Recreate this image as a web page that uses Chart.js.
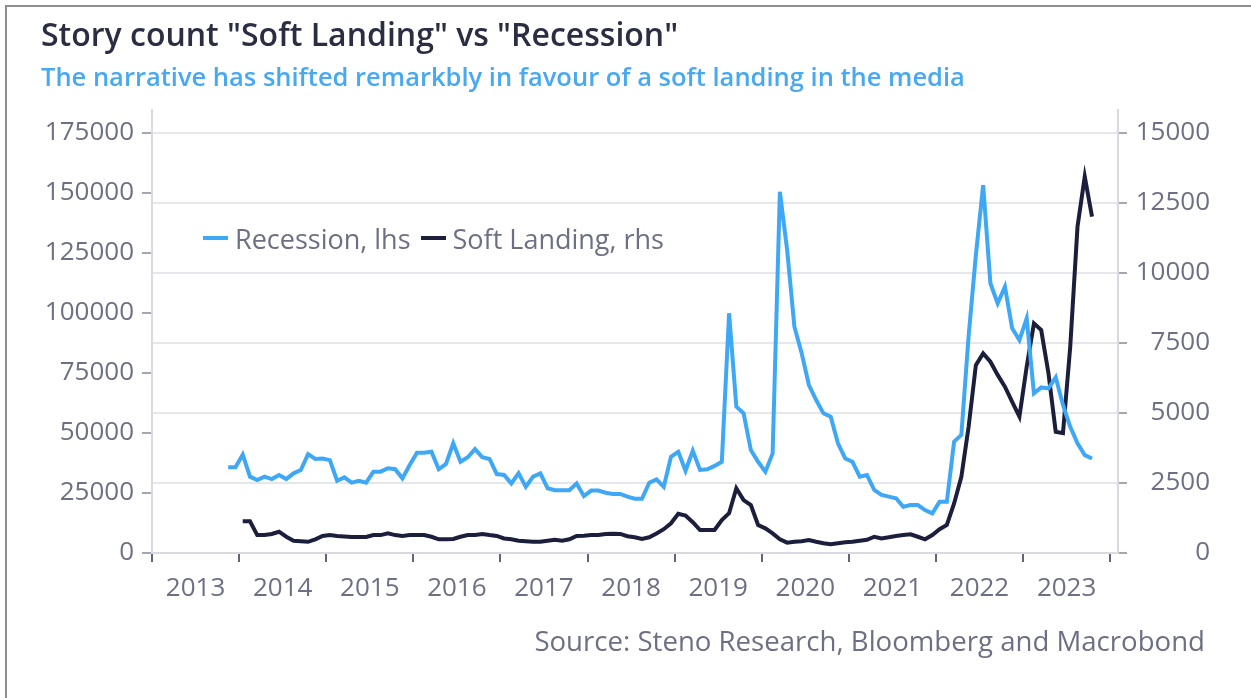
<!DOCTYPE html>
<html lang="en">
<head>
  <meta charset="UTF-8">
  <meta name="viewport" content="width=device-width, initial-scale=1.0">
  <script src="https://cdn.jsdelivr.net/npm/chart.js"></script>
  <title>Story count "Soft Landing" vs "Recession"</title>
  <style>
    body{margin: 0; background: #fff; font-family: "Open Sans", sans-serif;}
    #page{position: relative; width: 1251px; height: 698px; overflow: hidden;}
    #frame{position: absolute; left: 5px; top: 5px; width: 1300px; height: 800px; border: 2px solid #8e8e8e;}
    #title{position: absolute; left: 41px; top: 12px; font-size: 32px; font-weight: 600; color: #2b2d42; white-space: nowrap;}
    #sub{position: absolute; left: 41px; top: 59px; font-size: 25.5px; font-weight: 600; color: #47a9f2; white-space: nowrap;}
    #source{position: absolute; right: 46px; top: 621px; font-size: 27.6px; color: #6d7084; white-space: nowrap;}
    #legend{position: absolute; left: 203px; top: 222px; height: 32px; display: flex; align-items: center; font-size: 27px; color: #6d7084;}
    #legend .swatch{display: inline-block; width: 25px; height: 4px; margin-right: 7px;}
    #legend .item{display: flex; align-items: center; margin-right: 10px;}
    canvas{position: absolute; left: 0; top: 0;}
  </style>
</head>
<body>
  <div id="page">
    <div id="frame"></div>
    <canvas id="myChart" width="1251" height="698"></canvas>
    <div id="title">Story count "Soft Landing" vs "Recession"</div>
    <div id="sub">The narrative has shifted remarkbly in favour of a soft landing in the media</div>
    <div id="legend"></div>
    <div id="source">Source: Steno Research, Bloomberg and Macrobond</div>
  </div>
  <script>
    // monthly story counts, first month is Nov 2013
    const firstYear = 2013;
    const firstMonth = 11;

    const recession = [
      35700, 35700,
      41000, 31800, 30400, 31800, 30800, 32500, 30800, 33200, 34600, 41200, 39200, 39400,
      38700, 30100, 31500, 29300, 30100, 29300, 33900, 33900, 35300, 34900, 31100, 36700,
      41800, 41800, 42200, 34900, 37100, 45700, 38000, 39900, 43300, 39900, 39200, 32900,
      32500, 29000, 33200, 27600, 31800, 33200, 27000, 26200, 26200, 26200, 29000, 23700,
      26000, 26000, 25100, 24600, 24600, 23500, 22600, 22600, 29300, 30700, 27600, 40100,
      42200, 34300, 42600, 34600, 34900, 36300, 38000, 99900, 61000, 58200, 42900, 38000,
      33900, 41500, 150500, 126250, 94300, 83200, 70000, 63750, 58200, 56800, 45700, 39400,
      38000, 31800, 32500, 26250, 24200, 23500, 22800, 19300, 20000, 20000, 17900, 16500,
      21400, 21400, 46400, 49200, 90500, 124200, 153300, 112400, 104000, 111000, 93600, 88750,
      97800, 66500, 69000, 68600, 73200, 61700, 52600, 45700, 40800, 39400
    ];

    const softLanding = [
      null, null,
      1130, 1130, 640, 640, 680, 760, 580, 440, 420, 400, 490, 610,
      640, 610, 590, 570, 570, 570, 640, 640, 700, 640, 610, 640,
      640, 640, 580, 490, 490, 500, 580, 640, 640, 680, 640, 610,
      520, 490, 440, 420, 400, 400, 440, 470, 440, 490, 610, 620,
      640, 640, 680, 690, 680, 600, 560, 500, 560, 700, 850, 1060,
      1400, 1340, 1100, 820, 820, 820, 1180, 1420, 2310, 1890, 1710, 1000,
      880, 700, 490, 370, 400, 420, 460, 400, 350, 310, 350, 380,
      400, 440, 470, 580, 520, 560, 610, 640, 670, 580, 490, 640,
      850, 1000, 1770, 2720, 4510, 6710, 7130, 6830, 6360, 5940, 5400, 4870,
      6650, 8200, 7960, 6420, 4330, 4280, 7370, 11650, 13440, 12010
    ];

    const years = [2013, 2014, 2015, 2016, 2017, 2018, 2019, 2020, 2021, 2022, 2023, 2024];
    const leftTicks = [0, 25000, 50000, 75000, 100000, 125000, 150000, 175000];
    const rightTicks = [0, 2500, 5000, 7500, 10000, 12500, 15000];

    // each point sits in the middle of its month
    const monthX = [];
    for (let i = 0; i < recession.length; i++) {
      const m = firstMonth - 1 + i;
      monthX.push(firstYear + Math.floor(m / 12) + ((m % 12) + 0.5) / 12);
    }

    const tickFont = {family: "'Open Sans', sans-serif", size: 26};
    const labelColor = '#6d7084';
    const axisLine = {display: true, color: '#d9dae1', width: 2};
    const plainNumber = function(v){ return String(v); };

    const ctx = document.getElementById('myChart');

    const chart = new Chart(ctx, {
      type: 'line',
      data: {
        datasets: [{
          label: 'Recession, lhs',
          data: monthX.map((x, i) => ({x: x, y: recession[i]})),
          borderColor: '#3ea8f6',
          backgroundColor: '#3ea8f6',
          borderWidth: 4,
          pointRadius: 0,
          tension: 0,
          yAxisID: 'y'
        }, {
          label: 'Soft Landing, rhs',
          data: monthX.map((x, i) => ({x: x, y: softLanding[i]})),
          borderColor: '#1c1f3c',
          backgroundColor: '#1c1f3c',
          borderWidth: 4,
          pointRadius: 0,
          tension: 0,
          yAxisID: 'y2'
        }]
      },
      options: {
        responsive: false,
        animation: false,
        layout: {padding: {top: 110, left: 0, right: 41, bottom: 85}},
        plugins: {legend: {display: false}, tooltip: {enabled: false}},
        scales: {
          x: {
            type: 'linear',
            min: 2013,
            max: 2024.09,
            // year boundaries get a tick mark, the label sits mid-year
            afterBuildTicks: function(scale){
              const t = [];
              years.forEach(function(y){
                t.push({value: y});
                if (y < 2024) t.push({value: y + 0.5});
              });
              scale.ticks = t;
            },
            afterFit: function(scale){ scale.height = 60; },
            ticks: {
              autoSkip: false,
              maxRotation: 0,
              font: tickFont,
              color: labelColor,
              padding: 11,
              callback: function(v){ return Number.isInteger(v) ? '' : String(Math.floor(v)); }
            },
            grid: {
              drawOnChartArea: false,
              tickLength: 9,
              lineWidth: 2,
              tickColor: function(c){ return Number.isInteger(c.tick.value) ? '#62657a' : 'rgba(0,0,0,0)'; }
            },
            border: axisLine
          },
          y: {
            position: 'left',
            min: 0,
            max: 184600,
            afterBuildTicks: function(scale){ scale.ticks = leftTicks.map(v => ({value: v})); },
            afterFit: function(scale){ scale.width = 152; },
            ticks: {font: tickFont, color: labelColor, padding: 8, callback: plainNumber},
            grid: {drawOnChartArea: false, tickLength: 10, lineWidth: 2, tickColor: '#a4a6b4'},
            border: axisLine
          },
          y2: {
            position: 'right',
            min: 0,
            max: 15820,
            afterBuildTicks: function(scale){ scale.ticks = rightTicks.map(v => ({value: v})); },
            afterFit: function(scale){ scale.width = 92; },
            ticks: {font: tickFont, color: labelColor, crossAlign: 'far', callback: plainNumber},
            grid: {color: '#e6e7ec', lineWidth: 2, tickLength: 9, tickColor: '#a4a6b4'},
            border: axisLine
          }
        }
      }
    });

    // legend built from the datasets
    const legend = document.getElementById('legend');
    chart.data.datasets.forEach(function(ds){
      const item = document.createElement('span');
      item.className = 'item';
      item.innerHTML = '<span class="swatch" style="background:' + ds.borderColor + '"></span>' + ds.label;
      legend.appendChild(item);
    });
  </script>
</body>
</html>
